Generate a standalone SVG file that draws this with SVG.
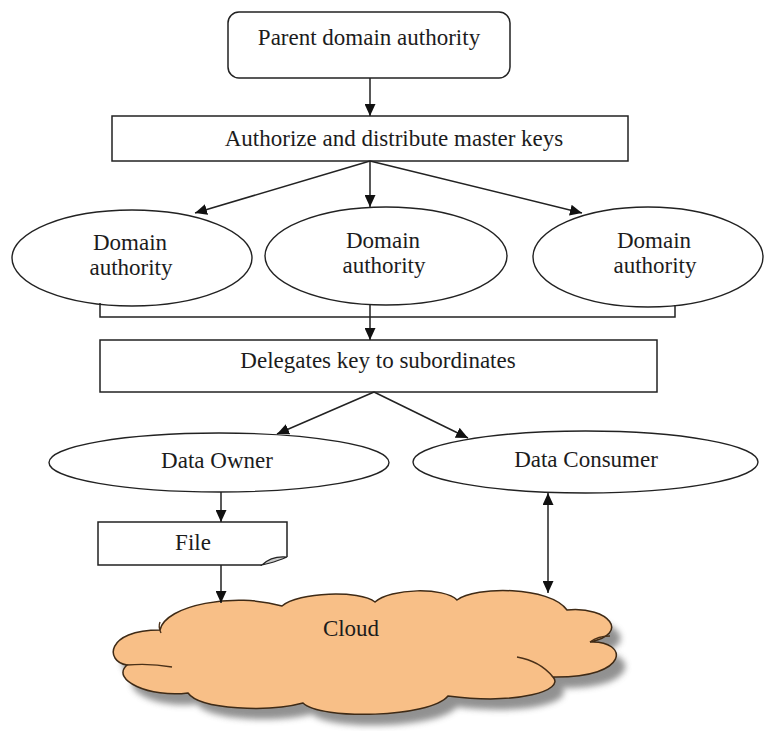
<svg xmlns="http://www.w3.org/2000/svg" width="764" height="731" viewBox="0 0 764 731">
<style>
.box{fill:#fff;stroke:#222;stroke-width:1.5}
.ell{fill:#fff;stroke:#222;stroke-width:1.4}
.lbl{font-family:"Liberation Serif","Times New Roman",serif;font-size:23px;fill:#1c1c1c;text-anchor:middle}
.con{fill:none;stroke:#222;stroke-width:1.5}
.crease{fill:none;stroke:#4a3018;stroke-width:1.4}
</style>
<defs>
<marker id="ah" markerUnits="userSpaceOnUse" markerWidth="13" markerHeight="11" refX="12" refY="5.5" orient="auto-start-reverse">
<path d="M0,0 L12,5.5 L0,11 z" fill="#111"/>
</marker>
<filter id="blur" x="-10%" y="-20%" width="120%" height="140%">
<feGaussianBlur stdDeviation="3"/>
</filter>
<path id="cloudShape" d="M160,630 C165,605 235,592 282,606 C298,592 360,590 375,602 C390,588 445,587 457,600 C475,586 550,586 567,610 C610,606 630,634 590,642 C628,640 632,678 553,677 C565,690 520,705 448,696 C430,718 320,720 303,703 C270,712 200,710 188,693 C150,698 110,680 127,665 C105,662 105,630 160,630 Z"/>
</defs>
<rect width="764" height="731" fill="#fff"/>

<g id="parent">
<rect class="box" x="228" y="12" width="282" height="66" rx="11"/>
<text class="lbl" x="369" y="45">Parent domain authority</text>
</g>

<g id="authorize">
<rect class="box" x="112" y="116" width="516" height="45"/>
<text class="lbl" x="394" y="146">Authorize and distribute master keys</text>
</g>

<g id="domain1">
<ellipse class="ell" cx="132" cy="258" rx="120" ry="48"/>
<text class="lbl" x="130" y="250">Domain</text>
<text class="lbl" x="131" y="275">authority</text>
</g>

<g id="domain2">
<ellipse class="ell" cx="386" cy="256" rx="121" ry="49"/>
<text class="lbl" x="383" y="248">Domain</text>
<text class="lbl" x="384" y="273">authority</text>
</g>

<g id="domain3">
<ellipse class="ell" cx="648" cy="257" rx="115" ry="50"/>
<text class="lbl" x="654" y="248">Domain</text>
<text class="lbl" x="655" y="273">authority</text>
</g>

<g id="delegates">
<rect class="box" x="100" y="340" width="557" height="52"/>
<text class="lbl" x="378" y="368">Delegates key to subordinates</text>
</g>

<g id="dataowner">
<ellipse class="ell" cx="219" cy="462.5" rx="170" ry="29.5"/>
<text class="lbl" x="217" y="468">Data Owner</text>
</g>

<g id="dataconsumer">
<ellipse class="ell" cx="585.5" cy="462" rx="172.5" ry="31"/>
<text class="lbl" x="586" y="467">Data Consumer</text>
</g>

<g id="file">
<path d="M262,565 L98,565 L98,522 L287,522 L287,557" fill="#fff" stroke="#222" stroke-width="1.5"/>
<path d="M262,565 C268,559 276,556 287,557 L287,557 C280,560 274,562 270,563 Z" fill="#ccc" stroke="#222" stroke-width="1.2"/>
<text class="lbl" x="193" y="550">File</text>
</g>

<g id="cloud">
<use href="#cloudShape" transform="translate(9,11)" fill="#6d6d6d" opacity="0.75" filter="url(#blur)"/>
<use href="#cloudShape" fill="#f8bf87" stroke="#3e2a16" stroke-width="1.5"/>
<path class="crease" d="M127,665 Q150,663 172,667"/>
<path class="crease" d="M590,642 Q598,636 610,636"/>
<path class="crease" d="M517,657 Q540,661 553,677"/>
<path class="crease" d="M160,622 Q158,627 161,633"/>
<text class="lbl" x="351" y="636">Cloud</text>
</g>

<g id="connectors">
<line class="con" x1="370" y1="78" x2="370" y2="116" marker-end="url(#ah)"/>
<line class="con" x1="370" y1="161" x2="195" y2="213" marker-end="url(#ah)"/>
<line class="con" x1="370" y1="161" x2="370" y2="207" marker-end="url(#ah)"/>
<line class="con" x1="370" y1="161" x2="582" y2="213" marker-end="url(#ah)"/>
<polyline class="con" points="100,303 100,317 675,317 675,305"/>
<line class="con" x1="370" y1="305" x2="370" y2="340" marker-end="url(#ah)"/>
<line class="con" x1="374" y1="392" x2="277" y2="434" marker-end="url(#ah)"/>
<line class="con" x1="374" y1="392" x2="468" y2="438" marker-end="url(#ah)"/>
<line class="con" x1="221" y1="492" x2="221" y2="522" marker-end="url(#ah)"/>
<line class="con" x1="221" y1="565" x2="221" y2="603" marker-end="url(#ah)"/>
<line class="con" x1="548" y1="493" x2="548" y2="593" marker-start="url(#ah)" marker-end="url(#ah)"/>
</g>
</svg>
